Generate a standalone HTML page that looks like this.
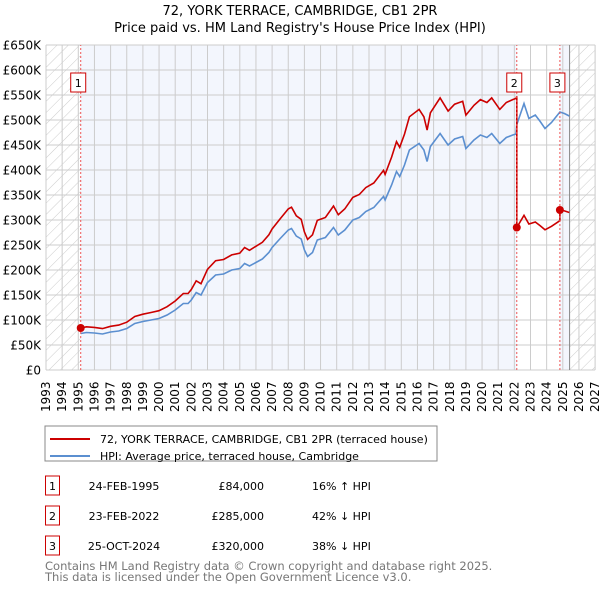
<!DOCTYPE html>
<html><head><meta charset="utf-8"><style>
body{margin:0;background:#fff;width:600px;height:590px;overflow:hidden;font-family:"DejaVu Sans","Liberation Sans",sans-serif;}
</style></head><body>
<svg id="chart" width="600" height="590" xmlns="http://www.w3.org/2000/svg" font-family="DejaVu Sans, Liberation Sans, sans-serif">
<defs>
<pattern id="hatch" patternUnits="userSpaceOnUse" width="8" height="8" patternTransform="rotate(45)">
<line x1="0" y1="0" x2="0" y2="8" stroke="#ccc" stroke-width="1"/></pattern>
<clipPath id="plotclip"><rect x="46" y="44" width="549" height="326"/></clipPath>
</defs>
<text x="300" y="15" text-anchor="middle" font-size="13">72, YORK TERRACE, CAMBRIDGE, CB1 2PR</text>
<text x="300" y="32" text-anchor="middle" font-size="13">Price paid vs. HM Land Registry's House Price Index (HPI)</text>
<g id="bg"></g>
<g id="grid"></g>
<g id="axes"></g>
<g id="series" clip-path="url(#plotclip)"></g>
<g id="marks"></g>
<g>
<rect x="45" y="426" width="392" height="35" fill="#fff" stroke="#888"/>
<line x1="50" y1="439" x2="90" y2="439" stroke="#cc0000" stroke-width="2"/>
<text x="100" y="443" font-size="11">72, YORK TERRACE, CAMBRIDGE, CB1 2PR (terraced house)</text>
<line x1="50" y1="456" x2="90" y2="456" stroke="#5b8fd0" stroke-width="2"/>
<text x="100" y="460" font-size="11">HPI: Average price, terraced house, Cambridge</text>
</g>
<g id="table" font-size="11"></g>
<text x="45" y="570" font-size="11.5" fill="#777">Contains HM Land Registry data © Crown copyright and database right 2025.</text>
<text x="45" y="581" font-size="11.5" fill="#777">This data is licensed under the Open Government Licence v3.0.</text>
</svg>
<script>
const years=[];for(let y=1993;y<=2027;y++)years.push(y);
const yTicks=[0,50,100,150,200,250,300,350,400,450,500,550,600,650];
const hpiT=[1995.15,1995.5,1996,1996.5,1997,1997.5,1998,1998.5,1999,1999.5,
2000,2000.5,2001,2001.5,2001.8,2002,2002.3,2002.6,2003,2003.5,
2004,2004.5,2005,2005.3,2005.6,2006,2006.4,2006.8,2007,2007.5,
2008,2008.2,2008.5,2008.8,2009,2009.2,2009.5,2009.8,2010.3,2010.8,
2011.1,2011.5,2012,2012.4,2012.8,2013.3,2013.9,2014.0,2014.4,2014.7,
2014.9,2015.2,2015.5,2016.1,2016.4,2016.6,2016.8,2017.4,2017.9,2018.3,
2018.8,2019.0,2019.5,2019.9,2020.3,2020.6,2021.1,2021.5,2021.9,2022.1,2022.15,
2022.6,2022.9,2023.3,2023.6,2023.9,2024.3,2024.82,2025.1,2025.4];
const hpiV=[73,75,74,72,76,78,83,93,97,100,
103,110,120,133,133,140,155,150,175,190,
192,200,203,213,208,215,222,235,245,263,
280,283,268,262,240,227,235,260,265,285,
270,280,300,305,317,325,347,340,370,397,
387,410,440,453,440,417,447,473,450,462,
467,443,460,470,465,473,453,465,470,472,491,
533,503,510,497,483,495,516,513,508];
const saleT=[1995.15,2022.15,2024.82];
const saleP=[84,285,320];
const saleLabels=["1","2","3"];
const saleDates=["24-FEB-1995","23-FEB-2022","25-OCT-2024"];
const salePrices=["£84,000","£285,000","£320,000"];
const saleHpi=["16% ↑ HPI","42% ↓ HPI","38% ↓ HPI"];
const NS="http://www.w3.org/2000/svg";
const X=t=>46+(t-1993)*16.15;
const Y=v=>370-v*0.5;
function el(tag,attrs,parent,txt){const e=document.createElementNS(NS,tag);for(const k in attrs)e.setAttribute(k,attrs[k]);if(txt!==undefined)e.textContent=txt;parent.appendChild(e);return e;}
const bg=document.getElementById('bg'),grid=document.getElementById('grid'),axes=document.getElementById('axes'),series=document.getElementById('series'),marks=document.getElementById('marks'),table=document.getElementById('table');
const dataEnd=2025.42;
el('rect',{x:X(1993),y:Y(650),width:X(2027)-X(1993),height:Y(0)-Y(650),fill:'#fff'},bg);
let r=el('rect',{x:X(saleT[0]),y:Y(650),width:X(saleT[1])-X(saleT[0]),height:325,fill:'#f3f6fd'},bg);

r=el('rect',{x:X(saleT[2]),y:Y(650),width:X(dataEnd)-X(saleT[2]),height:325,fill:'#f3f6fd'},bg);

r=el('rect',{x:X(1993),y:Y(650),width:X(saleT[0])-X(1993),height:325,fill:'url(#hatch)'},bg);

r=el('rect',{x:X(dataEnd),y:Y(650),width:X(2027)-X(dataEnd),height:325,fill:'url(#hatch)'},bg);

years.forEach(y=>{el('line',{x1:X(y),y1:Y(0),x2:X(y),y2:Y(650),stroke:'#ccc','stroke-width':1},grid);
 const t=el('text',{x:0,y:0,transform:`translate(${X(y)+4},412) rotate(-90)`,'font-size':12},axes,String(y));
 });
yTicks.forEach(v=>{el('line',{x1:X(1993),y1:Y(v),x2:X(2027),y2:Y(v),stroke:'#ccc','stroke-width':1},grid);
 const t=el('text',{x:41,y:Y(v)+4.5,'text-anchor':'end','font-size':12},axes,v===0?'£0':'£'+v+'K');
 });
el('line',{x1:X(dataEnd),y1:Y(0),x2:X(dataEnd),y2:Y(650),stroke:'#888','stroke-width':1},grid);
function hpiAt(t){for(let i=1;i<hpiT.length;i++){if(t<=hpiT[i]){const f=(t-hpiT[i-1])/(hpiT[i]-hpiT[i-1]);return hpiV[i-1]+f*(hpiV[i]-hpiV[i-1]);}}return hpiV[hpiV.length-1];}
let d='';hpiT.forEach((t,i)=>{d+=(i?'L':'M')+X(t).toFixed(1)+','+Y(hpiV[i]).toFixed(1);});
const hp=el('path',{d:d,fill:'none',stroke:'#5b8fd0','stroke-width':1.6},series);

let rd='';let first=true;let prevK=0;
hpiT.forEach((t,i)=>{let k=0;for(let j=0;j<saleT.length;j++)if(t>=saleT[j]-0.001)k=j;
 if(k!==prevK){const pv=saleP[prevK]*hpiAt(saleT[k]-0.04)/hpiAt(saleT[prevK]);
  rd+='L'+X(saleT[k]).toFixed(1)+','+Y(pv).toFixed(1)+'L'+X(saleT[k]).toFixed(1)+','+Y(saleP[k]).toFixed(1);}
 const v=saleP[k]*hpiV[i]/hpiAt(saleT[k]);rd+=(first?'M':'L')+X(t).toFixed(1)+','+Y(v).toFixed(1);first=false;prevK=k;});
const rp=el('path',{d:rd,fill:'none',stroke:'#cc0000','stroke-width':1.6},series);

saleT.forEach((t,i)=>{
 const ln=el('line',{x1:X(t),y1:Y(0),x2:X(t),y2:Y(650),stroke:'#e55','stroke-width':1,'stroke-dasharray':'2,2'},marks);
 
 const c=el('circle',{cx:X(t),cy:Y(saleP[i]),r:4,fill:'#cc0000'},marks);
 
 const g=el('g',{},marks);
 el('rect',{x:X(t)-10,y:73,width:15,height:19,fill:'#fff',stroke:'#cc0000'},g);
 el('text',{x:X(t)-2.5,y:87,'text-anchor':'middle','font-size':11},g,saleLabels[i]);
 const row=el('g',{},table);
 const ry=476+i*30;
 el('rect',{x:45.5,y:ry,width:14,height:19,fill:'#fff',stroke:'#cc0000'},row);
 el('text',{x:52.5,y:ry+14,'text-anchor':'middle'},row,saleLabels[i]);
 el('text',{x:124,y:ry+14,'text-anchor':'middle'},row,saleDates[i]);
 el('text',{x:264,y:ry+14,'text-anchor':'end'},row,salePrices[i]);
 el('text',{x:312,y:ry+14},row,saleHpi[i]);
});
</script>
</body></html>
